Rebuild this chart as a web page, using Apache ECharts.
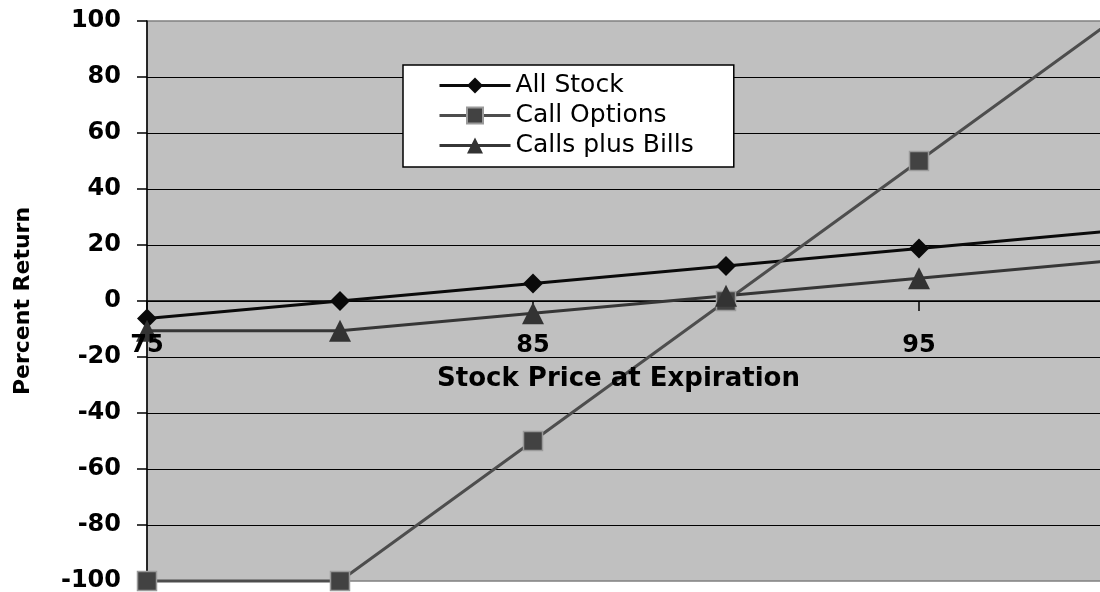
<!DOCTYPE html>
<html>
<head>
<meta charset="utf-8">
<script src="https://cdn.jsdelivr.net/npm/echarts@6/dist/echarts.min.js"></script>
<style>
html,body{margin:0;padding:0;background:#fff;}
#c{width:1100px;height:592px;}
</style>
</head>
<body>
<div id="c"></div>
<script>
const prices = ['75', '80', '85', '90', '95', '100'];
const allStock = [-6.25, 0, 6.25, 12.5, 18.75, 25];
const callOptions = [-100, -100, -50, 0, 50, 100];
const callsPlusBills = [-10.6, -10.6, -4.4, 1.9, 8.1, 14.4];
const seriesNames = ['All Stock', 'Call Options', 'Calls plus Bills'];
const xTitle = 'Stock Price at Expiration';
const yTitle = 'Percent Return';

const FONT = 'DejaVu Sans';
const GRID_TOP = 21, GRID_BOTTOM = 11, H = 592;
// the x axis sits on the zero line (middle of the symmetric -100..100 range)
const zeroOffset = -((H - GRID_BOTTOM) - GRID_TOP) / 2;

const chart = echarts.init(document.getElementById('c'), null, {renderer: 'canvas'});
chart.setOption({
  animation: false,
  backgroundColor: '#ffffff',
  grid: {
    left: 147, right: -12, top: GRID_TOP, bottom: GRID_BOTTOM,
    show: true, backgroundColor: '#c0c0c0', borderColor: '#808080', borderWidth: 1.5,
    containLabel: false,
    outerBoundsMode: 'none'
  },
  legend: {
    orient: 'vertical',
    left: 403, top: 65,
    backgroundColor: '#ffffff',
    borderColor: '#000000', borderWidth: 1.5, borderRadius: 0,
    padding: [8, 40, 9, 35],
    itemWidth: 71, itemHeight: 20, itemGap: 5,
    lineStyle: {width: 3},
    textStyle: {fontFamily: FONT, fontSize: 25, color: '#000'},
    data: seriesNames
  },
  xAxis: [
    {
      type: 'category',
      data: prices,
      boundaryGap: false,
      position: 'bottom',
      offset: zeroOffset,
      z: 0,
      axisLine: {show: true, onZero: false, lineStyle: {color: '#000', width: 1.5}},
      axisTick: {show: true, interval: 1, length: 10, inside: false, lineStyle: {color: '#000', width: 1.5}},
      axisLabel: {show: false},
      splitLine: {show: false}
    },
    {
      type: 'category',
      data: prices,
      boundaryGap: false,
      position: 'bottom',
      offset: zeroOffset,
      z: 5,
      name: xTitle,
      nameLocation: 'middle',
      nameGap: 65,
      nameTextStyle: {fontFamily: FONT, fontWeight: 'bold', fontSize: 26, color: '#000', padding: [0, 22, 0, 0]},
      axisLine: {show: false, onZero: false},
      axisTick: {show: false},
      axisLabel: {interval: 1, margin: 33, hideOverlap: false, fontFamily: FONT, fontWeight: 'bold', fontSize: 24, color: '#000'},
      splitLine: {show: false}
    }
  ],
  yAxis: {
    type: 'value',
    min: -100, max: 100, interval: 20,
    name: yTitle,
    nameLocation: 'middle',
    nameRotate: 90,
    nameGap: 113,
    nameTextStyle: {fontFamily: FONT, fontWeight: 'bold', fontSize: 22, color: '#000'},
    axisLine: {show: true, onZero: false, lineStyle: {color: '#000', width: 1.5}},
    axisTick: {show: true, length: 10, inside: false, lineStyle: {color: '#000', width: 1.5}},
    axisLabel: {margin: 26, fontFamily: FONT, fontWeight: 'bold', fontSize: 24, color: '#000'},
    splitLine: {show: true, showMinLine: false, showMaxLine: false, lineStyle: {color: '#000', width: 1}}
  },
  series: [
    {
      name: seriesNames[0], type: 'line', data: allStock, clip: false, xAxisIndex: 0,
      symbol: 'diamond', symbolSize: 20,
      lineStyle: {color: '#0a0a0a', width: 3},
      itemStyle: {color: '#0a0a0a'}
    },
    {
      name: seriesNames[1], type: 'line', data: callOptions, clip: false, xAxisIndex: 0,
      symbol: 'rect', symbolSize: 19,
      lineStyle: {color: '#4d4d4d', width: 3},
      itemStyle: {color: '#424242', borderColor: '#9a9a9a', borderWidth: 1.5}
    },
    {
      name: seriesNames[2], type: 'line', data: callsPlusBills, clip: false, xAxisIndex: 0,
      symbol: 'triangle', symbolSize: 22,
      lineStyle: {color: '#363636', width: 3},
      itemStyle: {color: '#333333'}
    }
  ]
});
</script>
</body>
</html>
